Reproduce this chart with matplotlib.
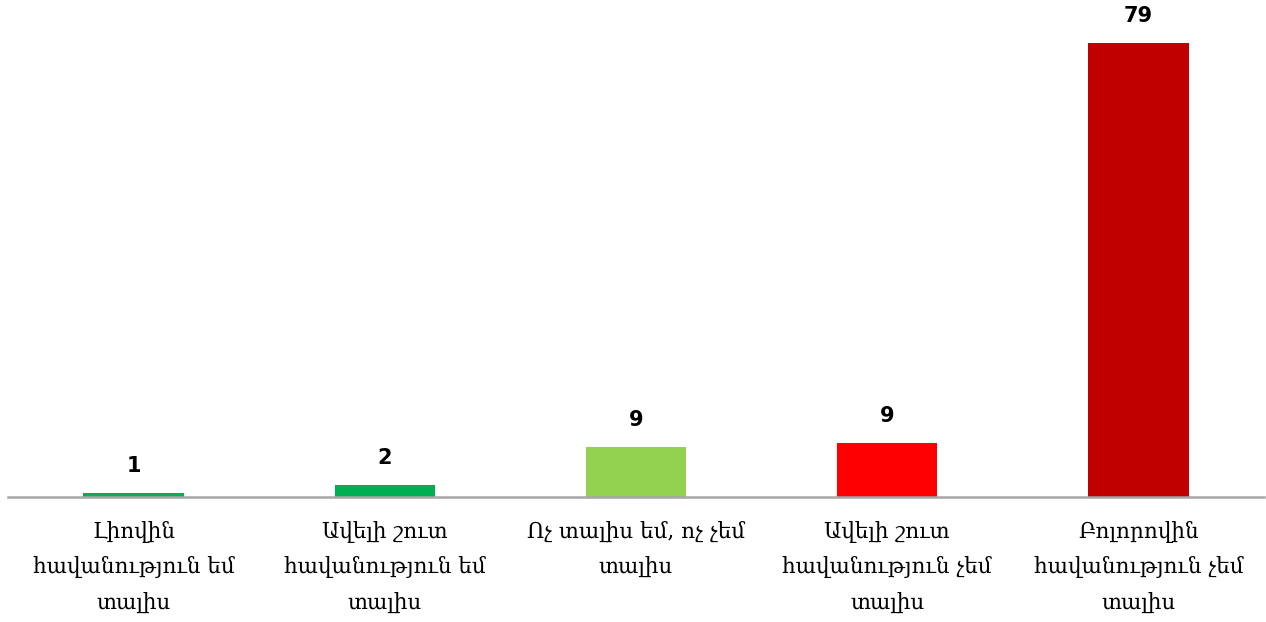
import matplotlib

matplotlib.use("Agg")
import matplotlib.pyplot as plt

# Категории ответов (армянский), значения в процентах
categories = [
    "Լիովին\nհավանություն եմ\nտալիս",
    "Ավելի շուտ\nհավանություն եմ\nտալիս",
    "Ոչ տալիս եմ, ոչ չեմ\nտալիս",
    "Ավելի շուտ\nհավանություն չեմ\nտալիս",
    "Բոլորովին\nհավանություն չեմ\nտալիս",
]
values = [0.7, 2.1, 8.7, 9.4, 79.0]
value_labels = ["1", "2", "9", "9", "79"]
colors = ["#00B050", "#00B050", "#92D050", "#FF0000", "#C00000"]

W, H = 1266, 622
fig = plt.figure(figsize=(W / 100, H / 100), dpi=100)
base_px = 497
ax = fig.add_axes([8 / W, (H - base_px) / H, 1256 / W, base_px / H])

x = list(range(len(values)))
bars = ax.bar(x, values, width=0.4, color=colors)

ax.set_xlim(-0.5, len(values) - 0.5)
ax.set_ylim(0, base_px / 5.75)

for rect, lab in zip(bars, value_labels):
    ax.annotate(lab, (rect.get_x() + rect.get_width() / 2, rect.get_height()),
                xytext=(0, 12), textcoords="offset points",
                ha="center", va="bottom", fontsize=15, fontweight="bold",
                family=["DejaVu Sans"], color="black")

for xi, cat in zip(x, categories):
    ax.annotate(cat, (xi, 0), xytext=(0, -17), textcoords="offset points",
                ha="center", va="top", fontsize=15.5, linespacing=1.8,
                family=["DejaVu Serif", "DejaVu Sans"], color="black")

for side in ("top", "right", "left"):
    ax.spines[side].set_visible(False)
ax.spines["bottom"].set_color("#A6A6A6")
ax.spines["bottom"].set_linewidth(1.8)
ax.set_xticks([])
ax.set_yticks([])

fig.savefig("out.png", dpi=100)
